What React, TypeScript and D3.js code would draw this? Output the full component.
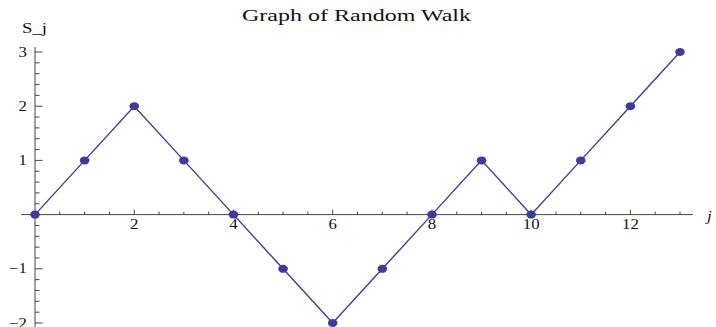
import * as d3 from "d3"

const steps = [0, 1, 2, 3, 4, 5, 6, 7, 8, 9, 10, 11, 12, 13]
const walk = [0, 1, 2, 1, 0, -1, -2, -1, 0, 1, 0, 1, 2, 3]
const xMajor = [2, 4, 6, 8, 10, 12]
const yMajor = [-2, -1, 1, 2, 3]
const title = "Graph of Random Walk"

// the reference image is stretched sideways a little, so text is widened to match
const stretch = 1.2

function Label({ x, y, anchor = "start", size = 14, italic = false, children }: any) {
    return (
        <text
            transform={`translate(${x},${y}) scale(${stretch},1)`}
            textAnchor={anchor}
            fontSize={size}
            fontStyle={italic ? "italic" : "normal"}
            fontFamily="'Liberation Serif', 'DejaVu Serif', serif"
            fill="#111"
        >
            {children}
        </text>
    )
}

export default function App() {
    const width = 716
    const height = 327
    const stroke = "#3d3d99"
    const axisColor = "#444"

    const x = d3.scaleLinear().domain([0, 13]).range([35, 680])
    const y = d3.scaleLinear().domain([-2, 3]).range([323, 52])

    const line = d3
        .line<number>()
        .x((_, i) => x(steps[i]))
        .y((d) => y(d))(walk) || ""

    const xMinor = d3.range(0.5, 13.3, 0.5).filter((v) => !xMajor.includes(v))
    const yMinor = d3
        .range(-2.2, 3.05, 0.2)
        .map((v) => Math.round(v * 10) / 10)
        .filter((v) => !yMajor.includes(v) && v !== 0)

    const x0 = x(0)
    const y0 = y(0)

    return (
        <svg
            width={width}
            height={height}
            style={{ position: "absolute", left: 0, top: 0, background: "#fff" }}
        >
            <text
                x={356.5}
                y={20.5}
                textAnchor="middle"
                fontSize={16}
                fontFamily="'Liberation Serif', 'DejaVu Serif', serif"
                textLength={229}
                lengthAdjust="spacingAndGlyphs"
                fill="#111"
            >
                {title}
            </text>
            <text
                x={22}
                y={33}
                fontSize={14}
                fontFamily="'Liberation Serif', 'DejaVu Serif', serif"
                textLength={25}
                lengthAdjust="spacingAndGlyphs"
                fill="#111"
            >
                S_j
            </text>
            <Label x={707} y={221} italic>
                j
            </Label>

            {/* x axis */}
            <line x1={x(-0.28)} x2={x(13.26)} y1={y0} y2={y0} stroke={axisColor} strokeWidth={1} />
            {xMinor.map((v) => (
                <line key={"xm" + v} x1={x(v)} x2={x(v)} y1={y0} y2={y0 - 3} stroke={axisColor} />
            ))}
            {xMajor.map((v) => (
                <g key={"xM" + v}>
                    <line x1={x(v)} x2={x(v)} y1={y0} y2={y0 - 5} stroke={axisColor} />
                    <Label x={x(v)} y={y0 + 14.5} anchor="middle">
                        {v}
                    </Label>
                </g>
            ))}

            {/* y axis */}
            <line x1={x0} x2={x0} y1={y(3.09)} y2={height} stroke={axisColor} strokeWidth={1} />
            {yMinor.map((v) => (
                <line key={"ym" + v} x1={x0} x2={x0 + 4.5} y1={y(v)} y2={y(v)} stroke={axisColor} />
            ))}
            {yMajor.map((v) => (
                <g key={"yM" + v}>
                    <line x1={x0} x2={x0 + 7.5} y1={y(v)} y2={y(v)} stroke={axisColor} />
                    <Label x={x0 - 8} y={y(v) + 4.5} anchor="end">
                        {v < 0 ? "\u2212" + Math.abs(v) : v}
                    </Label>
                </g>
            ))}

            <path d={line} fill="none" stroke={stroke} strokeWidth={1.4} />
            {walk.map((d, i) => (
                <ellipse key={i} cx={x(steps[i])} cy={y(d)} rx={4.8} ry={4} fill={stroke} />
            ))}
        </svg>
    )
}
